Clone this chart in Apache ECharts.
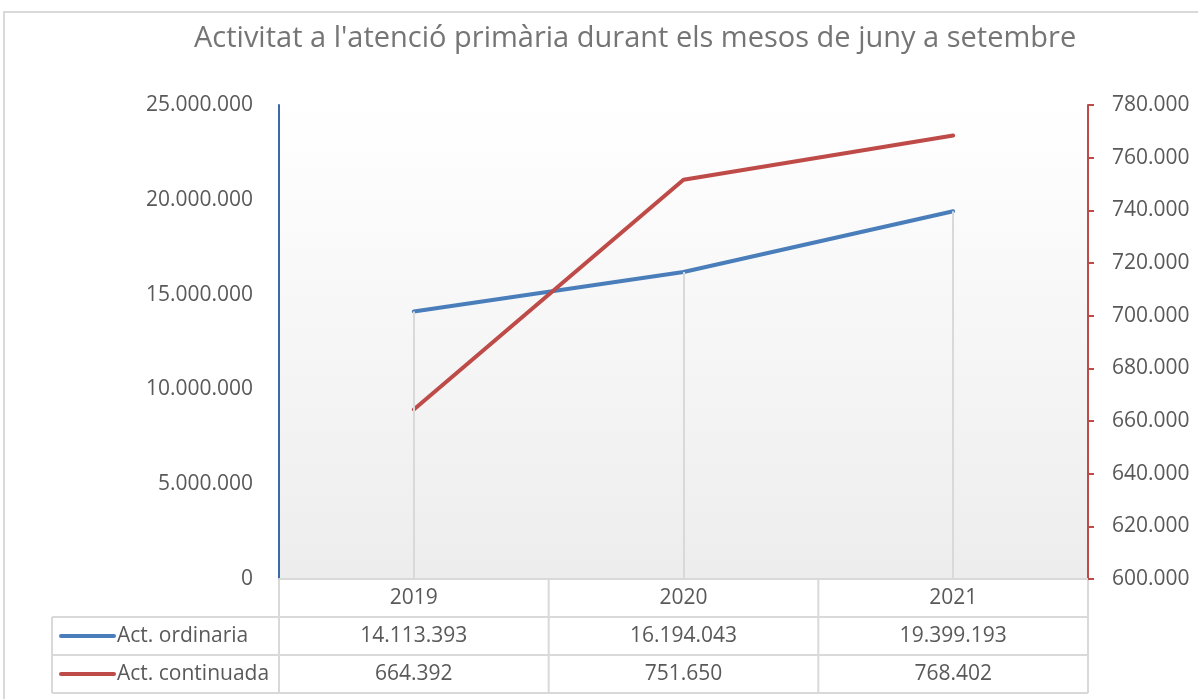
<!DOCTYPE html>
<html>
<head>
<meta charset="utf-8">
<script src="https://cdn.jsdelivr.net/npm/echarts@6/dist/echarts.min.js"></script>
<style>
  html, body { margin: 0; padding: 0; background: #fff; }
  #chart { width: 1198px; height: 699px; }
</style>
</head>
<body>
<div id="chart"></div>
<script>
// == Data ====================================================================

const titleText = "Activitat a l'atenció primària durant els mesos de juny a setembre"
const years = ['2019', '2020', '2021']
const seriesNames = ['Act. ordinaria', 'Act. continuada']
const ordinaria = [14113393, 16194043, 19399193]
const continuada = [664392, 751650, 768402]
const leftAxis = {min: 0, max: 25000000, interval: 5000000}
const rightAxis = {min: 600000, max: 780000, interval: 20000}

// == Styles ==================================================================

const FONT = '"Open Sans", "Noto Sans", sans-serif'
const TEXT = '#595959'
const BORDER = '#d9d9d9'
const BLUE = '#4a7ebb'
const RED = '#be4b48'
const ROW_H = 38

function fmt (v) {
  return String(v).replace(/\B(?=(\d{3})+(?!\d))/g, '.')
}

const grid = {left: 279, right: 110, top: 105, bottom: 120}

const chart = echarts.init(document.getElementById('chart'))

chart.setOption({
  animation: false,
  textStyle: {fontFamily: FONT},
  title: {
    text: titleText,
    left: 189,
    top: 19,
    textStyle: {color: '#757575', fontSize: 29, fontWeight: 'normal', fontFamily: FONT}
  },
  grid: {
    ...grid,
    show: true,
    borderWidth: 0,
    backgroundColor: new echarts.graphic.LinearGradient(0, 0, 0, 1, [
      {offset: 0, color: '#ffffff'},
      {offset: 1, color: '#ededed'}
    ])
  },
  xAxis: {
    type: 'category',
    data: years,
    boundaryGap: true,
    axisLine: {lineStyle: {color: BORDER, width: 2}},
    axisTick: {show: false},
    axisLabel: {show: false},
    splitLine: {show: false}
  },
  yAxis: [
    {
      type: 'value',
      position: 'left',
      ...leftAxis,
      axisLine: {show: true, lineStyle: {color: '#3c6aa8', width: 2}},
      axisTick: {show: false},
      splitLine: {show: false},
      axisLabel: {color: TEXT, fontSize: 21, margin: 26, formatter: fmt}
    },
    {
      type: 'value',
      position: 'right',
      ...rightAxis,
      axisLine: {show: true, lineStyle: {color: RED, width: 2}},
      axisTick: {show: true, length: 6, lineStyle: {color: RED, width: 2}},
      splitLine: {show: false},
      axisLabel: {color: TEXT, fontSize: 21, margin: 24, formatter: fmt}
    }
  ],
  series: [
    {
      // drop lines from the primary series down to the category axis
      type: 'line',
      data: [],
      yAxisIndex: 0,
      z: 1,
      silent: true,
      markLine: {
        silent: true,
        symbol: 'none',
        label: {show: false},
        lineStyle: {color: BORDER, width: 2, type: 'solid'},
        data: years.map((y, i) => [{coord: [y, ordinaria[i]]}, {coord: [y, leftAxis.min]}])
      }
    },
    {
      name: seriesNames[0],
      type: 'line',
      yAxisIndex: 0,
      data: ordinaria,
      showSymbol: false,
      z: 3,
      lineStyle: {color: BLUE, width: 4, cap: 'round'}
    },
    {
      name: seriesNames[1],
      type: 'line',
      yAxisIndex: 1,
      data: continuada,
      showSymbol: false,
      z: 3,
      lineStyle: {color: RED, width: 4, cap: 'round'}
    }
  ]
})

// == Data table under the plot ===============================================

const xs = years.map(y => chart.convertToPixel({xAxisIndex: 0}, y))
const cellW = xs[1] - xs[0]
const x0 = xs[0] - cellW / 2
const x1 = xs[xs.length - 1] + cellW / 2
const y0 = 699 - grid.bottom
const keyLeft = 52
const lines = []
const texts = []

function hline (xa, xb, y) {
  lines.push({type: 'line', shape: {x1: xa, y1: y, x2: xb, y2: y}, style: {stroke: BORDER, lineWidth: 2}})
}
function vline (x, ya, yb) {
  lines.push({type: 'line', shape: {x1: x, y1: ya, x2: x, y2: yb}, style: {stroke: BORDER, lineWidth: 2}})
}
function cellText (x, y, s, align) {
  texts.push({type: 'text', x: x, y: y, style: {text: s, fill: TEXT, font: '21px ' + FONT, align: align || 'center', verticalAlign: 'middle'}})
}

hline(keyLeft, x1, y0 + ROW_H)
hline(keyLeft, x1, y0 + ROW_H * 3)
hline(keyLeft, x1, y0 + ROW_H * 2)
vline(keyLeft, y0 + ROW_H, y0 + ROW_H * 3)
for (let i = 0; i <= years.length; i++) {
  vline(x0 + i * cellW, y0, y0 + ROW_H * 3)
}

years.forEach((y, i) => {
  cellText(xs[i], y0 + ROW_H * 0.5, y)
  cellText(xs[i], y0 + ROW_H * 1.5, fmt(ordinaria[i]))
  cellText(xs[i], y0 + ROW_H * 2.5, fmt(continuada[i]))
})

const keyColors = [BLUE, RED]
seriesNames.forEach((name, i) => {
  const cy = y0 + ROW_H * (1.5 + i)
  lines.push({type: 'line', shape: {x1: 61, y1: cy, x2: 114, y2: cy}, style: {stroke: keyColors[i], lineWidth: 4, lineCap: 'round'}})
  cellText(117, cy, name, 'left')
})

chart.setOption({
  graphic: [
    {type: 'rect', shape: {x: 4, y: 12, width: 1210, height: 720}, style: {fill: 'none', stroke: BORDER, lineWidth: 2}, silent: true},
    ...lines,
    ...texts
  ]
})
</script>
</body>
</html>
